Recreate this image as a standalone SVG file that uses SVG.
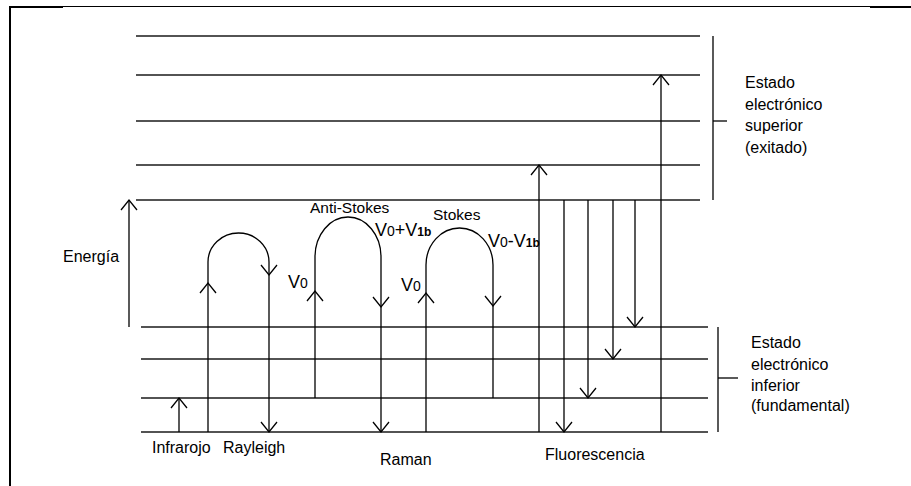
<svg xmlns="http://www.w3.org/2000/svg" width="911" height="486" viewBox="0 0 911 486">
<defs>
<style>
.lvl{stroke:#1a1a1a;stroke-width:1.4;fill:none}
.ln{stroke:#000;stroke-width:1.3;fill:none}
.arr{stroke:#000;stroke-width:1.3;fill:none;marker-end:url(#ah)}
.t{font-family:"Liberation Sans",Arial,sans-serif;font-size:16px;fill:#000}
.v{font-family:"Liberation Sans",Arial,sans-serif;font-size:18px;fill:#000}
.s0{font-size:14px}
.s1{font-size:12px;font-weight:bold}
</style>
<marker id="ah" markerUnits="userSpaceOnUse" markerWidth="20" markerHeight="20" refX="0" refY="0" orient="auto" overflow="visible">
<path d="M-10,-8 L0,0 L-10,8" fill="none" stroke="#000" stroke-width="1.3"/>
</marker>
</defs>
<rect width="911" height="486" fill="#fff"/>
<g id="frame">
<line x1="9" y1="6.5" x2="911" y2="6.5" stroke="#000" stroke-width="1"/>
<rect x="9" y="6" width="54" height="2" fill="#000"/>
<rect x="870" y="6" width="41" height="2" fill="#000"/>
<rect x="9" y="6" width="2" height="480" fill="#000"/>
</g>
<g id="upper-state">
<line class="lvl" x1="136" y1="36" x2="700" y2="36"/>
<line class="lvl" x1="136" y1="75" x2="700" y2="75"/>
<line class="lvl" x1="136" y1="121" x2="700" y2="121"/>
<line class="lvl" x1="136" y1="165" x2="700" y2="165"/>
<line class="lvl" x1="136" y1="200" x2="700" y2="200"/>
<line class="ln" x1="713" y1="36" x2="713" y2="200"/>
<line class="ln" x1="713" y1="121" x2="727" y2="121"/>
<text class="t" x="745" y="88">Estado</text>
<text class="t" x="745" y="110">electrónico</text>
<text class="t" x="745" y="131">superior</text>
<text class="t" x="745" y="153">(exitado)</text>
</g>
<g id="lower-state">
<line class="lvl" x1="141" y1="327" x2="708" y2="327"/>
<line class="lvl" x1="141" y1="359" x2="708" y2="359"/>
<line class="lvl" x1="141" y1="398" x2="708" y2="398"/>
<line class="lvl" x1="141" y1="432" x2="708" y2="432"/>
<line class="ln" x1="718" y1="327" x2="718" y2="432"/>
<line class="ln" x1="718" y1="378" x2="738" y2="378"/>
<text class="t" x="751" y="348">Estado</text>
<text class="t" x="751" y="370">electrónico</text>
<text class="t" x="751" y="391">inferior</text>
<text class="t" x="751" y="411">(fundamental)</text>
</g>
<g id="energia">
<text class="t" x="63" y="262">Energía</text>
</g>
<g id="infrarojo">
<text class="t" x="152" y="453">Infrarojo</text>
</g>
<g id="rayleigh">
<text class="t" x="223" y="453">Rayleigh</text>
</g>
<g id="raman">
<text class="t" x="380" y="465">Raman</text>
<text class="t" x="310" y="213" style="font-size:15.5px">Anti-Stokes</text>
<text class="t" x="433" y="220" style="font-size:15.5px">Stokes</text>
<text class="v" x="288" y="288">V<tspan class="s0">0</tspan></text>
<text class="v" x="401" y="291">V<tspan class="s0">0</tspan></text>
<text class="v" x="375" y="236">V<tspan class="s0">0</tspan>+V<tspan class="s1">1b</tspan></text>
<text class="v" x="488" y="247">V<tspan class="s0">0</tspan>-V<tspan class="s1">1b</tspan></text>
</g>
<g id="fluorescencia">
<text class="t" x="545" y="460">Fluorescencia</text>
</g>
<g id="connectors">
<path class="arr" d="M129,327 V200"/>
<path class="arr" d="M179,432 V398"/>
<path class="arr" d="M208,432 V283"/>
<path class="arr" d="M208,283 V262 A30.5,29 0 0 1 269,262 V275"/>
<path class="arr" d="M269,275 V432"/>
<path class="arr" d="M315,398 V291"/>
<path class="arr" d="M315,291 V257 A33,40 0 0 1 381,257 V307"/>
<path class="arr" d="M381,307 V432"/>
<path class="arr" d="M426,432 V293"/>
<path class="arr" d="M426,293 V265 A33.5,37 0 0 1 493,265 V306"/>
<path class="ln" d="M493,306 V398"/>
<path class="arr" d="M539,432 V165"/>
<path class="arr" d="M661,432 V75"/>
<path class="arr" d="M564,200 V432"/>
<path class="arr" d="M588,200 V398"/>
<path class="arr" d="M613,200 V359"/>
<path class="arr" d="M635,200 V327"/>
</g>
</svg>
